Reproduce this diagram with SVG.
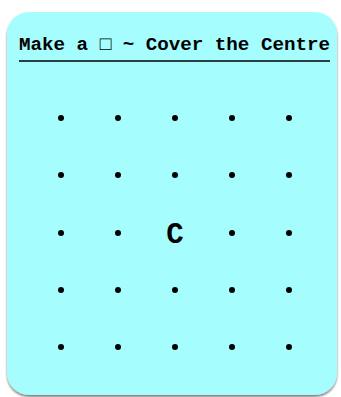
<svg xmlns="http://www.w3.org/2000/svg" width="341" height="397" viewBox="0 0 341 397">
<style>
.title{font-family:"Liberation Mono","Courier New",monospace;font-weight:bold;font-size:19px;fill:#000}
.lbl{font-family:"Liberation Mono","Courier New",monospace;font-weight:bold;font-size:29px;fill:#000}
.dot{fill:#000}
</style>
<defs>
<filter id="sh" x="-5%" y="-5%" width="110%" height="110%">
<feGaussianBlur in="SourceAlpha" stdDeviation="1"/>
<feOffset dx="0" dy="1.5"/>
<feComponentTransfer><feFuncA type="linear" slope="0.5"/></feComponentTransfer>
<feMerge><feMergeNode/><feMergeNode in="SourceGraphic"/></feMerge>
</filter>
</defs>
<rect x="0" y="0" width="341" height="397" fill="#fff"/>
<g id="card">
<rect x="7" y="12" width="330" height="383" rx="22" ry="22" fill="#a6fdfd" filter="url(#sh)"/>
<text class="title" x="19" y="50" textLength="311" lengthAdjust="spacingAndGlyphs">Make a □ ~ Cover the Centre</text>
<line x1="19" y1="61" x2="330" y2="61" stroke="#000" stroke-width="1.5"/>
</g>
<g id="dots">
<circle class="dot" cx="61" cy="118" r="3"/><circle class="dot" cx="118" cy="118" r="3"/><circle class="dot" cx="175" cy="118" r="3"/><circle class="dot" cx="232" cy="118" r="3"/><circle class="dot" cx="289" cy="118" r="3"/>
<circle class="dot" cx="61" cy="175" r="3"/><circle class="dot" cx="118" cy="175" r="3"/><circle class="dot" cx="175" cy="175" r="3"/><circle class="dot" cx="232" cy="175" r="3"/><circle class="dot" cx="289" cy="175" r="3"/>
<circle class="dot" cx="61" cy="233" r="3"/><circle class="dot" cx="118" cy="233" r="3"/><circle class="dot" cx="232" cy="233" r="3"/><circle class="dot" cx="289" cy="233" r="3"/>
<circle class="dot" cx="61" cy="290" r="3"/><circle class="dot" cx="118" cy="290" r="3"/><circle class="dot" cx="175" cy="290" r="3"/><circle class="dot" cx="232" cy="290" r="3"/><circle class="dot" cx="289" cy="290" r="3"/>
<circle class="dot" cx="61" cy="347" r="3"/><circle class="dot" cx="118" cy="347" r="3"/><circle class="dot" cx="175" cy="347" r="3"/><circle class="dot" cx="232" cy="347" r="3"/><circle class="dot" cx="289" cy="347" r="3"/>
</g>
<g id="centre">
<text class="lbl" x="175" y="243" text-anchor="middle">C</text>
</g>
</svg>
